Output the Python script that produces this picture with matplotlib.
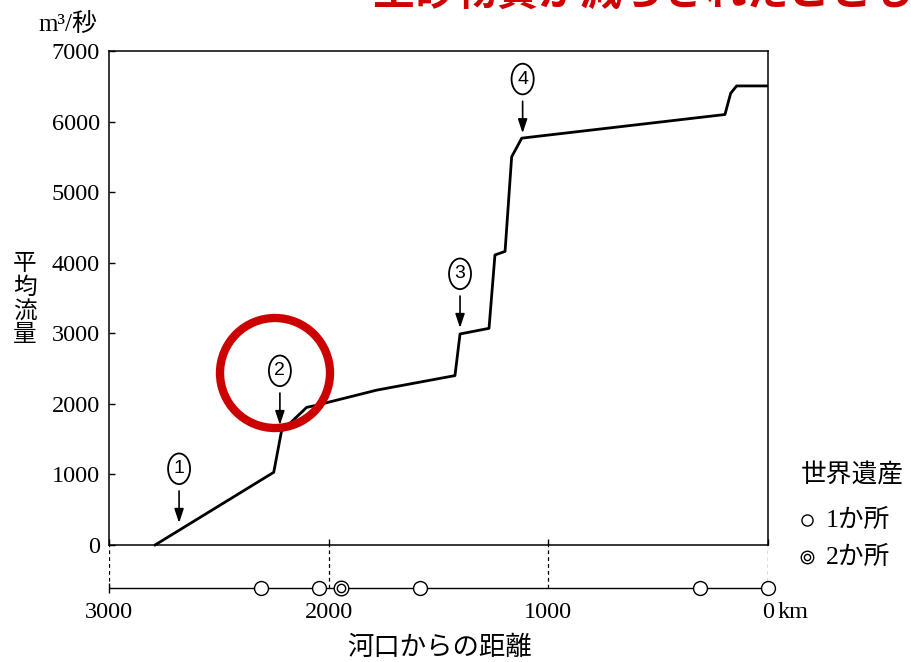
import numpy as np
import matplotlib.pyplot as plt
from matplotlib.patches import Circle
from matplotlib.lines import Line2D
from matplotlib.transforms import IdentityTransform

# 河口からの距離 (km) と平均流量 (m3/秒)
flow_km = [2790, 2250, 2215, 2100, 2062, 1780, 1425, 1402, 1270, 1243, 1197,
           1167, 1121, 196, 170, 143, 0]
flow_val = [0, 1030, 1610, 1950, 1975, 2195, 2400, 2990, 3070, 4110, 4160,
            5500, 5765, 6100, 6400, 6505, 6505]

# 矢印で示した地点 ①〜④
mark_labels = ["1", "2", "3", "4"]
mark_km = [2681, 2222, 1402, 1117]
mark_val = [312, 1700, 3075, 5835]

# 世界遺産の位置 (1か所 / 2か所)
heritage1_km = [2310, 2045, 1585, 310, 0]
heritage2_km = [1945]

y_ticks = [0, 1000, 2000, 3000, 4000, 5000, 6000, 7000]
x_ticks = [3000, 2000, 1000, 0]
x_ticklabels = ["3000", "2000", "1000", "0"]

plt.rcParams["font.family"] = ["Liberation Serif", "Noto Sans CJK JP"]

W, H = 911, 662
fig = plt.figure(figsize=(W / 100, H / 100), dpi=100)
ax = fig.add_axes([109 / W, 1 - 600 / H, 659 / W, 549 / H])

bar_y = -616  # 世界遺産の帯の高さ
ax.set_xlim(3000, 0)
ax.set_ylim(-780, 7000)

# --- 流量の折れ線 ---
ax.plot(flow_km, flow_val, color="black", lw=2)

# --- 枠 ---
ax.spines["bottom"].set_position(("data", 0))
ax.spines["left"].set_bounds(0, 7000)
ax.spines["right"].set_bounds(0, 7000)
for sp in ax.spines.values():
    sp.set_linewidth(1.1)

ax.set_yticks(y_ticks)
ax.set_xticks(x_ticks)
ax.set_xticklabels(x_ticklabels)
ax.tick_params(axis="x", direction="in", length=4.5, width=1, pad=41, labelsize=17.5)
ax.tick_params(axis="y", direction="in", length=4.5, width=1, pad=6.5, labelsize=17.5)
ax.annotate("km", xy=(0, 0), xytext=(7, -41), textcoords="offset points",
            ha="left", va="top", fontsize=17.5)

# --- 下の帯（世界遺産） ---
x0, x1 = ax.get_xlim()
ax.vlines(x_ticks, bar_y, 0, colors="black", lw=0.9, linestyles=(0, (3, 2.5)))
ax.hlines(bar_y, x0, x1, colors="black", lw=1)
ax.plot([x0], [bar_y], marker="|", ms=7, color="black", clip_on=False)
ax.plot(heritage1_km, [bar_y] * len(heritage1_km), "o", ms=10, mfc="white",
        mec="black", mew=1, clip_on=False, zorder=5)
ax.plot(heritage2_km, [bar_y] * len(heritage2_km), "o", ms=10.5, mfc="white",
        mec="black", mew=1, clip_on=False, zorder=5)
ax.plot(heritage2_km, [bar_y] * len(heritage2_km), "o", ms=6, mfc="white",
        mec="black", mew=1, clip_on=False, zorder=6)

# --- ①〜④ の矢印とラベル ---
for lab, km, v in zip(mark_labels, mark_km, mark_val):
    ax.annotate("", xy=(km, v), xytext=(0, 23), textcoords="offset points",
                arrowprops=dict(arrowstyle="-|>,head_length=0.6,head_width=0.2",
                                color="black", lw=1.2, shrinkA=0, shrinkB=0,
                                mutation_scale=14))
    ax.annotate(lab, xy=(km, v), xytext=(0, 39), textcoords="offset points",
                ha="center", va="center", fontsize=14, family="Liberation Sans",
                bbox=dict(boxstyle="ellipse,pad=0.12", fc="white", ec="black", lw=1.3))

# --- 文字 ---
fig.text(38 / W, 1 - 24 / H, "m³/秒", fontsize=18, va="center", ha="left")
fig.text(25 / W, 1 - 300 / H, "平\n均\n流\n量", fontsize=17, ha="center",
         va="center", linespacing=1.12)
fig.text(440 / W, 1 - 648 / H, "河口からの距離", fontsize=19, ha="center", va="center")

# 凡例
fig.text(801 / W, 1 - 475 / H, "世界遺産", fontsize=18.5, ha="left", va="center")
fig.text(826 / W, 1 - 520 / H, "1か所", fontsize=18.5, ha="left", va="center")
fig.text(826 / W, 1 - 557 / H, "2か所", fontsize=18.5, ha="left", va="center")
fig.add_artist(Line2D([807 / W], [1 - 520 / H], marker="o", ms=8, mfc="white",
                      mec="black", mew=1, transform=fig.transFigure))
fig.add_artist(Line2D([807 / W], [1 - 557 / H], marker="o", ms=9, mfc="white",
                      mec="black", mew=1, transform=fig.transFigure))
fig.add_artist(Line2D([807 / W], [1 - 557 / H], marker="o", ms=4.5, mfc="white",
                      mec="black", mew=1, transform=fig.transFigure))

# 赤丸と上端の赤字（元図でも上が切れている）
fig.add_artist(Circle((275, H - 373), 55, transform=IdentityTransform(),
                      fill=False, ec="#cc0000", lw=6, zorder=10))
fig.text(372 / W, 1 - 5 / H, "土砂物質が減らされたことも問題化し", fontsize=30,
         color="#d00000", fontweight="bold", family="Noto Sans CJK JP",
         ha="left", va="baseline")

fig.savefig("out.png", dpi=100)
